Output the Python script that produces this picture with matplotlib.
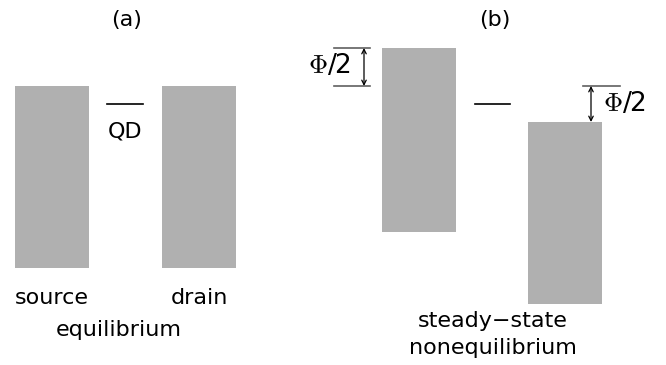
import matplotlib
matplotlib.use("Agg")
import matplotlib.pyplot as plt
from matplotlib.patches import Rectangle

plt.rcParams["mathtext.fontset"] = "cm"

# band edges (pixel-like units, y grows downward)
lead_names = ["source", "drain"]
lead_x_a = [15, 162]
lead_x_b = [382, 528]
lead_width = 74
top_a = [86, 86]
bottom_a = [268, 268]
top_b = [48, 122]
bottom_b = [232, 304]
qd_level = 104
qd_x_a = [107, 143]
qd_x_b = [475, 510]

gray = "#b0b0b0"
fs = 16

fig = plt.figure(figsize=(6.66, 3.65), dpi=100)
ax = fig.add_axes([0, 0, 1, 1])
ax.set_xlim(0, 666)
ax.set_ylim(365, 0)
ax.axis("off")

# panel (a)
for x0, t, b in zip(lead_x_a, top_a, bottom_a):
    ax.add_patch(Rectangle((x0, t), lead_width, b - t, color=gray, lw=0))
ax.plot(qd_x_a, [qd_level, qd_level], color="black", lw=1.2)
ax.text(127, 20, "(a)", ha="center", va="center", fontsize=fs)
ax.text(125, 131, "QD", ha="center", va="center", fontsize=fs)
ax.text(lead_x_a[0] + lead_width / 2, 298, lead_names[0], ha="center", va="center", fontsize=fs)
ax.text(lead_x_a[1] + lead_width / 2, 298, lead_names[1], ha="center", va="center", fontsize=fs)
ax.text(119, 330, "equilibrium", ha="center", va="center", fontsize=fs)

# panel (b)
for x0, t, b in zip(lead_x_b, top_b, bottom_b):
    ax.add_patch(Rectangle((x0, t), lead_width, b - t, color=gray, lw=0))
ax.plot(qd_x_b, [qd_level, qd_level], color="black", lw=1.2)
ax.text(495, 20, "(b)", ha="center", va="center", fontsize=fs)
ax.text(493, 321, "steady\u2212state", ha="center", va="center", fontsize=fs)
ax.text(493, 348, "nonequilibrium", ha="center", va="center", fontsize=fs)

# dimension marks Phi/2
dim_col = "#606060"
ax.plot([334, 370], [top_b[0], top_b[0]], color=dim_col, lw=1.2)
ax.plot([334, 370], [top_a[0], top_a[0]], color=dim_col, lw=1.2)
ax.annotate("", xy=(364, top_b[0]), xytext=(364, top_a[0]),
            arrowprops=dict(arrowstyle="<->", lw=0.9, color="black",
                            shrinkA=0, shrinkB=0, mutation_scale=8))
ax.text(351, 66, r"$\Phi$/2", ha="right", va="center", fontsize=19)

ax.plot([583, 620], [top_a[0], top_a[0]], color=dim_col, lw=1.2)
ax.annotate("", xy=(591, top_a[0]), xytext=(591, top_b[1]),
            arrowprops=dict(arrowstyle="<->", lw=0.9, color="black",
                            shrinkA=0, shrinkB=0, mutation_scale=8))
ax.text(603, 104, r"$\Phi$/2", ha="left", va="center", fontsize=19)

fig.savefig("out.png", dpi=100)
